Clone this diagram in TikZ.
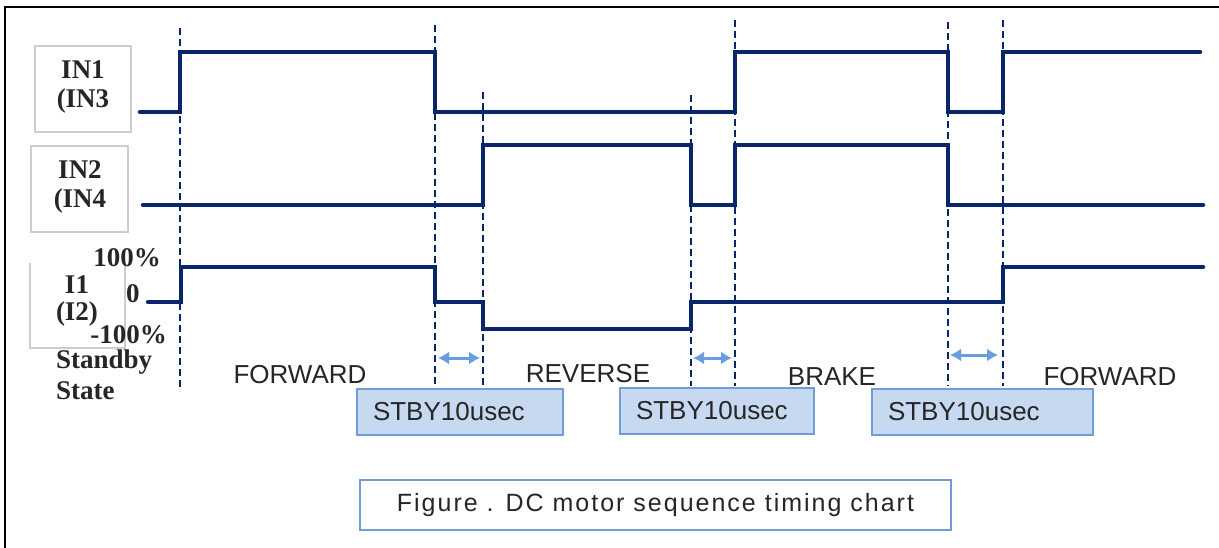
\documentclass[tikz,border=0pt]{standalone}
\usepackage{fontspec}
\setmainfont{Liberation Serif}
\setsansfont{Liberation Sans}
\usetikzlibrary{arrows.meta}
\definecolor{navy}{RGB}{10,38,106}
\definecolor{stbyfill}{RGB}{198,217,241}
\definecolor{stbyline}{RGB}{112,157,212}
\definecolor{gapblue}{RGB}{104,158,222}
\definecolor{labgray}{RGB}{205,205,205}
\def\serifsize{\fontsize{27}{29}\selectfont\bfseries}
\def\sanssize{\fontsize{26}{28}\selectfont\sffamily}

\tikzset{
  sig/.style={navy, line width=4.5pt, line join=miter, line cap=round},
  cutline/.style={navy, line width=2.6pt, dash pattern=on 7pt off 4pt},
  gap/.style={gapblue, line width=3pt, {Latex[length=11pt,width=13pt]}-{Latex[length=11pt,width=13pt]}},
  labbox/.style={labgray, line width=2pt},
  stbybox/.style={draw=stbyline, fill=stbyfill, line width=2pt, inner xsep=16pt, inner ysep=0pt,
    minimum height=46pt, align=left, text=black!85, font=\sanssize},
  state/.style={text=black!85, font=\sanssize, inner sep=0pt, anchor=base},
  lab/.style={text=black!85, font=\serifsize, inner sep=0pt}
}

\begin{document}
\begin{tikzpicture}[x=1pt,y=-1pt]
		%%%%% START %%%%%
		\useasboundingbox (0,0) rectangle (1219,548);
		\fill[white] (0,0) rectangle (1219,548);
		\draw[line width=2.5pt] (5,560) -- (5,7) -- (1230,7);
		
		% row labels
		\draw[labbox] (35,46) rectangle (131,132);
		\node[lab, align=center, anchor=north] (in1) at (83,60) {IN1\\(IN3};
		\draw[labbox] (31,146) rectangle (128,232);
		\node[lab, align=center, anchor=north] (in2) at (80,160) {IN2\\(IN4};
		\draw[labbox] (30,263) -- (30,348) -- (125,348) -- (125,263);
		\node[lab, align=center, anchor=north, font=\fontsize{27}{27}\selectfont\bfseries] (i1) at (77,275) {I1\\(I2)};
		\node[lab, anchor=base east] (full) at (161,267) {100\%};
		\node[lab, anchor=base west] (zero) at (126,303) {0};
		\node[lab, anchor=base east] (rev) at (167,343) {-100\%};
		\node[lab, align=left, anchor=north west, font=\fontsize{27}{31}\selectfont\bfseries] (stby) at (56,350) {Standby\\State};
		
		% dashed change lines
		\foreach \x/\top/\bot in {180/28/391, 435/25/386, 483/92/386, 691/95/386, 735/20/386, 948/22/386, 1003/20/386}
			\draw[cutline] (\x,\top) -- (\x,\bot);
		
		% signals
		\draw[sig] (140,112) -| (180,52) -| (435,112) -| (735,52) -| (948,112) -| (1003,52) -- (1200,52);
		\draw[sig] (143,205) -| (483,145) -| (691,205) -| (735,145) -| (948,205) -- (1203,205);
		\draw[sig] (148,302) -| (181,267) -| (435,302) -| (483,329) -| (691,302) -| (1003,267) -- (1203,267);
		
		% standby gaps
		\coordinate (g1a) at (438,358); \coordinate (g1b) at (480,358);
		\coordinate (g2a) at (693,358); \coordinate (g2b) at (732,358);
		\coordinate (g3a) at (950,355); \coordinate (g3b) at (998,355);
		\draw[gap] (g1a) -- (g1b);
		\draw[gap] (g2a) -- (g2b);
		\draw[gap] (g3a) -- (g3b);
		
		\node[state] (fwd1) at (300,383) {FORWARD};
		\node[state] (revs) at (588,382) {REVERSE};
		\node[state] (brk) at (832,385) {BRAKE};
		\node[state] (fwd2) at (1110,385) {FORWARD};
		
		\node[stbybox, text width=174pt] (stby1) at (460,411.5) {STBY10usec};
		\node[stbybox, text width=162pt] (stby2) at (717,411) {STBY10usec};
		\node[stbybox, text width=189pt] (stby3) at (982.5,412) {STBY10usec};
		
		% caption
		\node[draw=stbyline, line width=2pt, fill=white, minimum width=591pt, minimum height=50pt, inner sep=0pt,
			text=black!85, font=\fontsize{25}{27}\selectfont\sffamily\addfontfeatures{LetterSpace=8}] (cap) at (655.5,505)
			{Figure . DC motor sequence timing chart};
		%%%%% END %%%%%
\end{tikzpicture}
\end{document}
